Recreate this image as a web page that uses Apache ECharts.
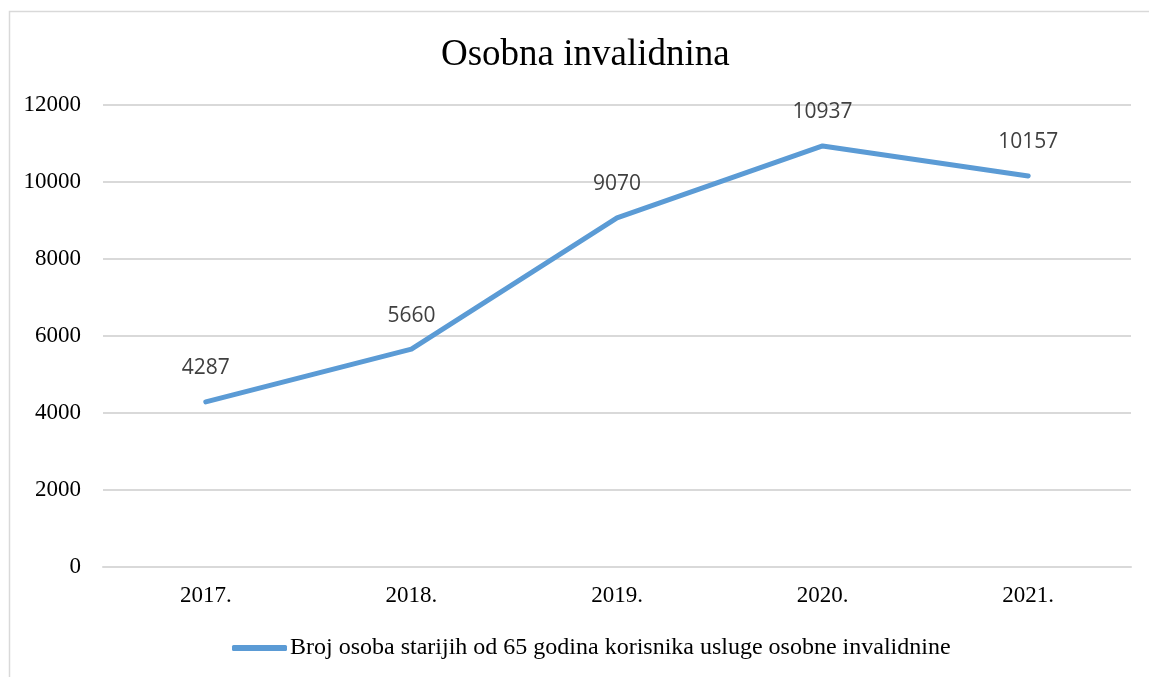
<!DOCTYPE html>
<html><head><meta charset="utf-8">
<script src="https://cdn.jsdelivr.net/npm/echarts@6/dist/echarts.min.js"></script>
<style>html,body{margin:0;padding:0;background:#fff}#c{width:1149px;height:677px}</style>
</head><body><div id="c"></div>
<script>
const categories = ['2017.', '2018.', '2019.', '2020.', '2021.'];
const values = [4287, 5660, 9070, 10937, 10157];
const seriesName = 'Broj osoba starijih od 65 godina korisnika usluge osobne invalidnine';
const titleText = 'Osobna invalidnina';

const chart = echarts.init(document.getElementById('c'), null, {renderer: 'canvas'});
chart.setOption({
  animation: false,
  backgroundColor: '#fff',
  title: {
    text: titleText, left: 436, top: 32,
    textStyle: {fontFamily: 'Liberation Serif', fontSize: 37, fontWeight: 'normal', color: '#000'}
  },
  graphic: [{
    type: 'rect', shape: {x: 9.5, y: 11.5, width: 1300, height: 800},
    style: {fill: 'none', stroke: '#d9d9d9', lineWidth: 1.5}, silent: true
  }],
  legend: {
    bottom: 12, left: 227, itemWidth: 55, itemHeight: 6, itemGap: 4,
    data: [{name: seriesName, icon: 'roundRect'}],
    itemStyle: {color: '#5b9bd5', opacity: 1},
    textStyle: {fontFamily: 'Liberation Serif', fontSize: 24, color: '#000', padding: [0, 0, 0, -2]}
  },
  grid: {left: 103, right: 18, top: 105, bottom: 110, containLabel: false},
  xAxis: {
    type: 'category', data: categories, boundaryGap: true,
    axisLine: {lineStyle: {color: '#d9d9d9', width: 2}},
    axisTick: {show: false},
    axisLabel: {fontFamily: 'Liberation Serif', fontSize: 23, color: '#000', margin: 17}
  },
  yAxis: {
    type: 'value', min: 0, max: 12000, interval: 2000,
    axisLine: {show: false}, axisTick: {show: false},
    splitLine: {lineStyle: {color: '#d9d9d9', width: 2}},
    axisLabel: {fontFamily: 'Liberation Serif', fontSize: 23, color: '#000', margin: 22,
      formatter: function (v) { return String(v); }}
  },
  series: [{
    name: seriesName, type: 'line', data: values,
    symbol: 'circle', symbolSize: 2, showSymbol: true,
    lineStyle: {color: '#5b9bd5', width: 5, cap: 'round', join: 'round'},
    itemStyle: {color: '#5b9bd5'},
    label: {show: true, position: 'top', distance: 22,
      fontFamily: 'Open Sans', fontSize: 21, color: '#404040'}
  }]
});
</script></body></html>
